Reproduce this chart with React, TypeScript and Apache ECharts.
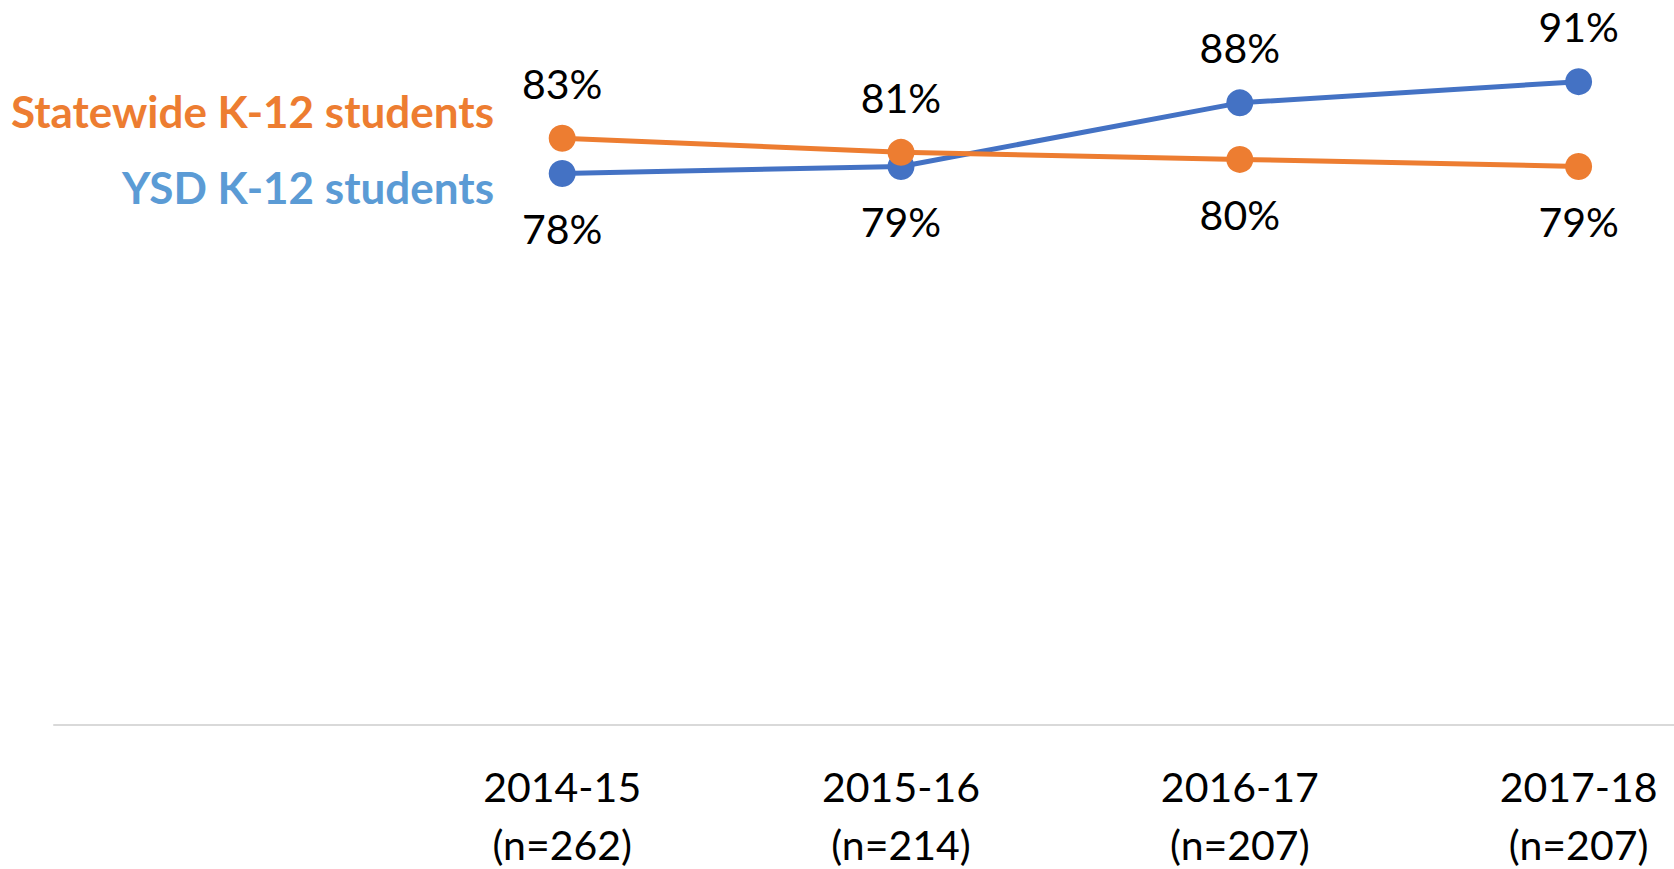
import React, { useEffect, useRef } from "react";
import * as echarts from "echarts";

// Category slot 0 is left empty (room for the series names on the left)
const years = ["", "2014-15", "2015-16", "2016-17", "2017-18"];
const sampleSizes = ["", "262", "214", "207", "207"];
const ysdValues = [null, 78, 79, 88, 91];
const statewideValues = [null, 83, 81, 80, 79];
const ysdLabelSides = ["", "bottom", "bottom", "top", "top"];
const statewideLabelSides = ["", "top", "top", "bottom", "bottom"];
const seriesNames = ["YSD K-12 students", "Statewide K-12 students"];

const FONT = "Lato, 'Open Sans', sans-serif";
const BLUE = "#4472C4";
const ORANGE = "#ED7D31";

function buildData(values: (number | null)[], sides: string[]) {
  return values.map((v, i) =>
    v == null
      ? null
      : {
          value: v,
          label: {
            position: sides[i],
            distance: 21,
          },
        }
  );
}

export default function App() {
  const ref = useRef<HTMLDivElement>(null);

  useEffect(() => {
    document.body.style.margin = "0";
    if (!ref.current) return;
    const chart = echarts.init(ref.current, undefined, { renderer: "svg" });
    const categories = years.map((y, i) => (y ? `${y}\n(n=${sampleSizes[i]})` : ""));
    const labelStyle = {
      show: true,
      formatter: "{c}%",
      fontSize: 41,
      fontFamily: FONT,
      color: "#000000",
    };
    chart.setOption({
      animation: false,
      backgroundColor: "#ffffff",
      grid: {
        left: 54,
        right: -74,
        top: 18,
        bottom: 144,
        containLabel: false,
        outerBoundsMode: "none",
      },
      xAxis: {
        type: "category",
        data: categories,
        boundaryGap: true,
        axisTick: { show: false },
        axisLine: { show: true, lineStyle: { color: "#D9D9D9", width: 2 } },
        axisLabel: {
          interval: 0,
          fontSize: 41,
          lineHeight: 58,
          margin: 32,
          color: "#000000",
          fontFamily: FONT,
        },
        splitLine: { show: false },
      },
      yAxis: {
        type: "value",
        min: 0,
        max: 100,
        show: false,
        splitLine: { show: false },
      },
      series: [
        {
          name: seriesNames[0],
          type: "line",
          data: buildData(ysdValues, ysdLabelSides),
          symbol: "circle",
          symbolSize: 27,
          itemStyle: { color: BLUE },
          lineStyle: { color: BLUE, width: 5 },
          label: labelStyle,
          z: 2,
        },
        {
          name: seriesNames[1],
          type: "line",
          data: buildData(statewideValues, statewideLabelSides),
          symbol: "circle",
          symbolSize: 27,
          itemStyle: { color: ORANGE },
          lineStyle: { color: ORANGE, width: 5 },
          label: labelStyle,
          z: 3,
        },
      ],
      graphic: [
        {
          type: "text",
          right: 1674 - 494,
          top: 89,
          style: {
            text: seriesNames[1],
            fill: ORANGE,
            font: `bold 44px ${FONT}`,
          },
        },
        {
          type: "text",
          right: 1674 - 494,
          top: 165,
          style: {
            text: seriesNames[0],
            fill: "#5B9BD5",
            font: `bold 44px ${FONT}`,
          },
        },
      ],
    });
    return () => chart.dispose();
  }, []);

  return <div ref={ref} style={{ width: 1674, height: 869 }} />;
}
